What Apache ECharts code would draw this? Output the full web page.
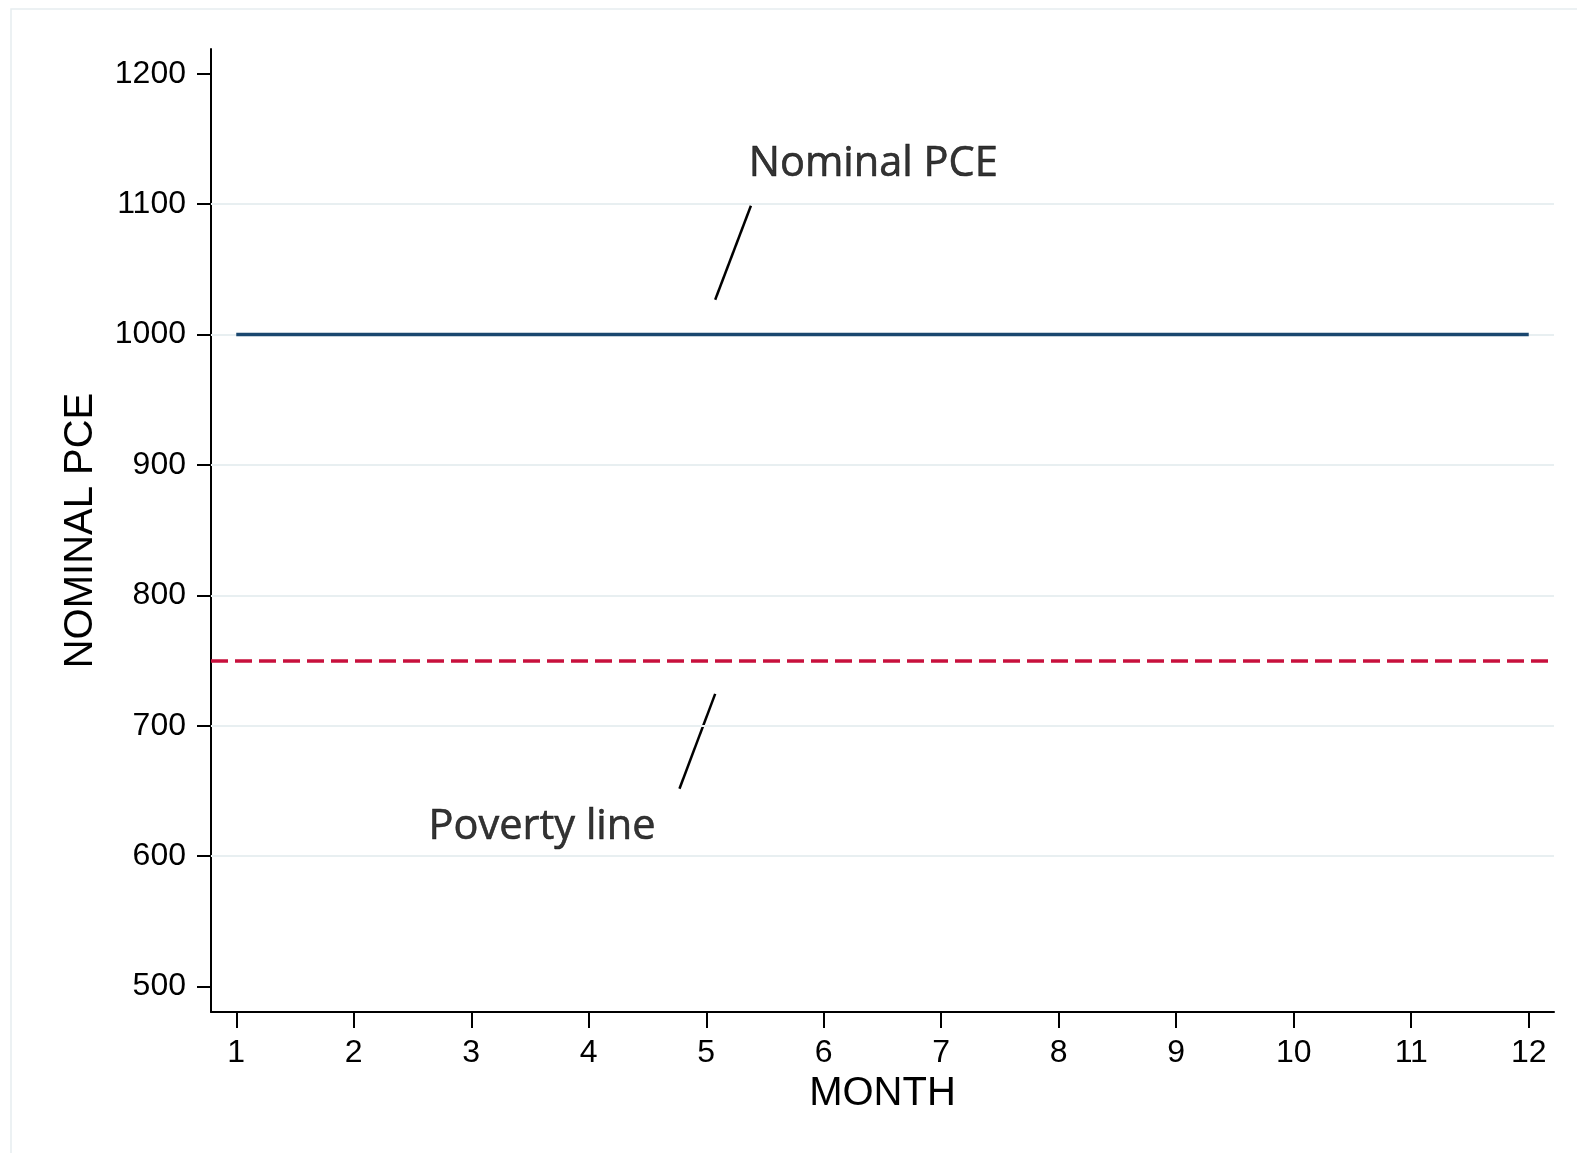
<!DOCTYPE html>
<html>
<head>
<meta charset="utf-8">
<script src="https://cdn.jsdelivr.net/npm/echarts@6/dist/echarts.min.js"></script>
<style>
  html, body { margin: 0; padding: 0; background: #fff; }
  #chart { width: 1577px; height: 1153px; }
</style>
</head>
<body>
<div id="chart"></div>
<script>
// data
const months = [1, 2, 3, 4, 5, 6, 7, 8, 9, 10, 11, 12];
const nominalPce = [1000, 1000, 1000, 1000, 1000, 1000, 1000, 1000, 1000, 1000, 1000, 1000];
const povertyLine = 750;
const yTicks = [500, 600, 700, 800, 900, 1000, 1100, 1200];
const gridValues = [600, 700, 800, 900, 1000, 1100];
const xRange = [0.785, 12.215];
const yRange = [480.5, 1219];

// annotation positions, in data units
const nominalLabelAt = [5.361, 1130.6];
const nominalLeader = [[5.380, 1098.8], [5.076, 1026.7]];
const povertyLabelAt = [2.637, 622.3];
const povertyLeader = [[5.076, 724.5], [4.772, 651.7]];

const chart = echarts.init(document.getElementById('chart'));

const tickFont = { fontFamily: 'Liberation Sans', fontSize: 32, color: '#000' };
const noteFont = {
    fontFamily: 'Open Sans', fontSize: 41.5, color: '#000', lineHeight: 42,
    textBorderColor: '#000', textBorderWidth: 0.6
};

const option = {
    backgroundColor: '#fff',
    animation: false,
    graphic: [{
        type: 'rect',
        shape: { x: 11, y: 9, width: 1600, height: 1200 },
        style: { fill: 'none', stroke: '#e6edef', lineWidth: 1.5 },
        silent: true
    }],
    grid: { left: 211, right: 23, top: 49, bottom: 141 },
    xAxis: {
        type: 'value',
        min: xRange[0],
        max: xRange[1],
        name: 'MONTH',
        nameLocation: 'middle',
        nameGap: 56,
        nameTextStyle: { fontFamily: 'Liberation Sans', fontSize: 40, color: '#000' },
        axisLine: { lineStyle: { color: '#000', width: 2 } },
        axisTick: { customValues: months, length: 16, lineStyle: { color: '#000', width: 2 } },
        axisLabel: Object.assign({ customValues: months, margin: 25, formatter: v => String(v) }, tickFont),
        splitLine: { show: false }
    },
    yAxis: {
        type: 'value',
        min: yRange[0],
        max: yRange[1],
        name: 'NOMINAL PCE',
        nameLocation: 'middle',
        nameGap: 110,
        nameTextStyle: { fontFamily: 'Liberation Sans', fontSize: 40, color: '#000' },
        axisLine: { show: true, lineStyle: { color: '#000', width: 2 } },
        axisTick: { show: true, customValues: yTicks, length: 14, lineStyle: { color: '#000', width: 2 } },
        axisLabel: Object.assign({
            customValues: yTicks, margin: 25, padding: [7, 0, 0, 0], formatter: v => String(v)
        }, tickFont),
        splitLine: { show: false }
    },
    series: [
        {
            // grid lines + poverty line
            type: 'line',
            data: [],
            silent: true,
            markLine: {
                silent: true,
                symbol: 'none',
                label: { show: false },
                data: gridValues.map(v => ({
                    yAxis: v,
                    lineStyle: { color: '#e8eff1', width: 2, type: 'solid' }
                })).concat([{
                    yAxis: povertyLine,
                    lineStyle: { color: '#c8103d', width: 3.5, type: [17, 7] }
                }])
            }
        },
        {
            name: 'Nominal PCE',
            type: 'line',
            data: months.map((m, i) => [m, nominalPce[i]]),
            showSymbol: false,
            lineStyle: { color: '#1a476f', width: 3.5 },
            z: 5
        },
        {
            type: 'line',
            data: nominalLeader,
            showSymbol: false,
            lineStyle: { color: '#000', width: 2.5 }
        },
        {
            type: 'line',
            data: povertyLeader,
            showSymbol: false,
            lineStyle: { color: '#000', width: 2.5 }
        },
        {
            type: 'scatter',
            symbolSize: 0,
            data: [
                { value: nominalLabelAt, name: 'Nominal PCE' },
                { value: povertyLabelAt, name: 'Poverty line' }
            ],
            label: Object.assign({
                show: true,
                position: [0, 0],
                align: 'left',
                verticalAlign: 'middle',
                formatter: p => p.name
            }, noteFont)
        }
    ]
};

chart.setOption(option);
</script>
</body>
</html>
